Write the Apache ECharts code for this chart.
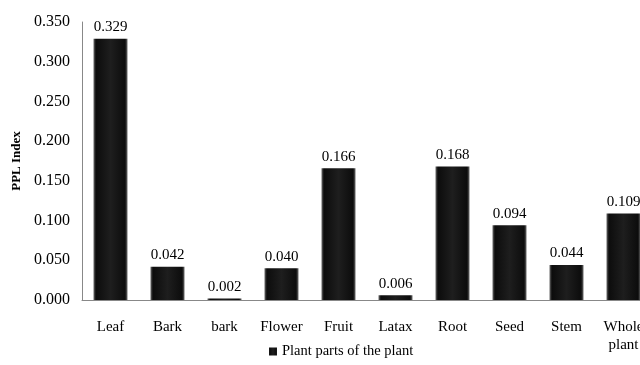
<!DOCTYPE html>
<html>
<head>
<meta charset="utf-8">
<script src="https://cdn.jsdelivr.net/npm/echarts@6/dist/echarts.min.js"></script>
<style>
  html, body { margin: 0; padding: 0; background: #fff; overflow: hidden; }
  /* the original plot runs past the right edge, so the canvas is a bit wider than the window */
  #chart { width: 652px; height: 365px; }
</style>
</head>
<body>
<div id="chart"></div>
<script>
// plant parts and their PPL index
const categories = ['Leaf', 'Bark', 'bark', 'Flower', 'Fruit', 'Latax', 'Root', 'Seed', 'Stem', 'Whole\nplant'];
const pplIndex = [0.329, 0.042, 0.002, 0.040, 0.166, 0.006, 0.168, 0.094, 0.044, 0.109];
const seriesName = 'Plant parts of the plant';

const font = '"Liberation Serif", "Times New Roman", serif';

const barFill = new echarts.graphic.LinearGradient(0, 0, 1, 0, [
  { offset: 0, color: '#6a6a6a' },
  { offset: 0.07, color: '#0c0c0c' },
  { offset: 0.5, color: '#1e1e1e' },
  { offset: 0.93, color: '#0c0c0c' },
  { offset: 1, color: '#6a6a6a' }
]);

const chart = echarts.init(document.getElementById('chart'));
chart.setOption({
  animation: false,
  textStyle: { fontFamily: font },
  grid: { left: 82, top: 22, right: 0, height: 278 },
  legend: {
    bottom: 1,
    left: 264,
    data: [seriesName],
    icon: 'rect',
    itemWidth: 8,
    itemHeight: 8,
    itemGap: 3,
    textStyle: { fontFamily: font, fontSize: 14.5, color: '#000' }
  },
  xAxis: {
    type: 'category',
    data: categories,
    axisLine: { lineStyle: { color: '#888' } },
    axisTick: { show: false },
    axisLabel: { fontFamily: font, fontSize: 15, color: '#000', margin: 18, lineHeight: 18, interval: 0 }
  },
  yAxis: {
    type: 'value',
    min: 0,
    max: 0.35,
    interval: 0.05,
    name: 'PPL Index',
    nameLocation: 'middle',
    nameGap: 58,
    nameTextStyle: { fontFamily: font, fontSize: 13, fontWeight: 'bold', color: '#000' },
    axisLine: { show: true, lineStyle: { color: '#888' } },
    axisTick: { show: false },
    splitLine: { show: false },
    axisLabel: {
      fontFamily: font, fontSize: 16, color: '#000', margin: 12,
      formatter: v => v.toFixed(3)
    }
  },
  series: [{
    name: seriesName,
    type: 'bar',
    data: pplIndex,
    barWidth: 34,
    itemStyle: { color: barFill },
    label: {
      show: true,
      position: 'top',
      distance: 4,
      fontFamily: font,
      fontSize: 15,
      color: '#000',
      formatter: p => p.value.toFixed(3)
    }
  }]
});
</script>
</body>
</html>
